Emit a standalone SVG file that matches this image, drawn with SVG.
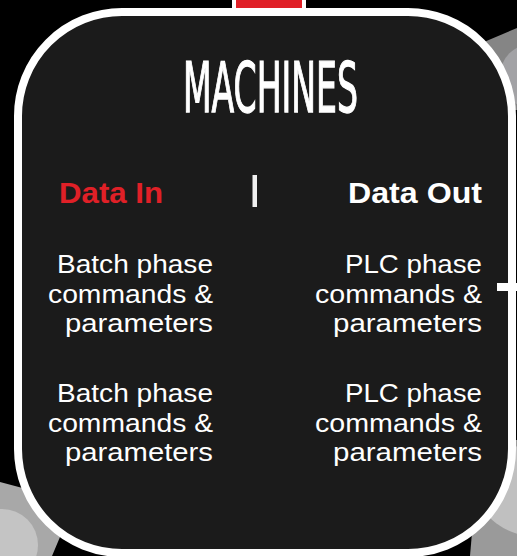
<svg xmlns="http://www.w3.org/2000/svg" width="517" height="556" viewBox="0 0 517 556">
  <style>
    .body { font-family: "Liberation Sans", Arial, sans-serif; font-size: 25px; fill: #ffffff; }
    .head { font-family: "Liberation Sans", Arial, sans-serif; font-size: 29px; font-weight: bold; }
    .title { font-family: "Liberation Sans Narrow", "DejaVu Sans Condensed", "Liberation Sans", sans-serif; font-size: 69px; fill: #ffffff; stroke: #ffffff; stroke-width: 1.3px; }
  </style>
  <rect x="0" y="0" width="517" height="556" fill="#000000"/>
  <g id="background-shapes">
    <polygon points="484,42 517,28 517,110 500,110" fill="#858585"/>
    <circle cx="532" cy="76" r="32" fill="#a2a2a5"/>
    <polygon points="0,482 30,490 75,505 60,537 52,556 0,556" fill="#a8a8a8"/>
    <circle cx="2" cy="545" r="36" fill="#c4c4c4"/>
    <polygon points="480,440 517,440 517,556 470,556" fill="#9a9a9a"/>
    <ellipse cx="540" cy="490" rx="62" ry="47" fill="#c0c0c0"/>
  </g>
  <g id="machines-node">
    <rect x="236" y="-10" width="66" height="24" fill="#e02027" stroke="#ffffff" stroke-width="8"/>
    <rect x="18" y="12" width="494" height="541" rx="104" ry="104" fill="#1b1b1b" stroke="#ffffff" stroke-width="8"/>
    <rect x="236" y="0" width="66" height="8" fill="#e02027"/>
    <text class="title" x="183" y="112" textLength="175" lengthAdjust="spacingAndGlyphs">MACHINES</text>
    <text class="head" x="59" y="203" fill="#e02027" textLength="104" lengthAdjust="spacingAndGlyphs">Data In</text>
    <rect x="252.5" y="175" width="4.5" height="32" fill="#f0f0f0"/>
    <text class="head" x="348" y="203" fill="#ffffff" textLength="134" lengthAdjust="spacingAndGlyphs">Data Out</text>
  </g>
  <g id="data-in-1">
    <text class="body" x="57" y="273" textLength="156" lengthAdjust="spacingAndGlyphs">Batch phase</text>
    <text class="body" x="48" y="303" textLength="165" lengthAdjust="spacingAndGlyphs">commands &amp;</text>
    <text class="body" x="65" y="332" textLength="148" lengthAdjust="spacingAndGlyphs">parameters</text>
  </g>
  <g id="data-in-2">
    <text class="body" x="57" y="402" textLength="156" lengthAdjust="spacingAndGlyphs">Batch phase</text>
    <text class="body" x="48" y="432" textLength="165" lengthAdjust="spacingAndGlyphs">commands &amp;</text>
    <text class="body" x="65" y="461" textLength="148" lengthAdjust="spacingAndGlyphs">parameters</text>
  </g>
  <g id="data-out-1">
    <text class="body" x="345" y="273" textLength="137" lengthAdjust="spacingAndGlyphs">PLC phase</text>
    <text class="body" x="315" y="303" textLength="167" lengthAdjust="spacingAndGlyphs">commands &amp;</text>
    <text class="body" x="333" y="332" textLength="149" lengthAdjust="spacingAndGlyphs">parameters</text>
  </g>
  <g id="data-out-2">
    <text class="body" x="345" y="402" textLength="137" lengthAdjust="spacingAndGlyphs">PLC phase</text>
    <text class="body" x="315" y="432" textLength="167" lengthAdjust="spacingAndGlyphs">commands &amp;</text>
    <text class="body" x="333" y="461" textLength="149" lengthAdjust="spacingAndGlyphs">parameters</text>
  </g>
  <g id="connectors">
    <rect x="497" y="283" width="20" height="8" fill="#ffffff"/>
  </g>
</svg>
